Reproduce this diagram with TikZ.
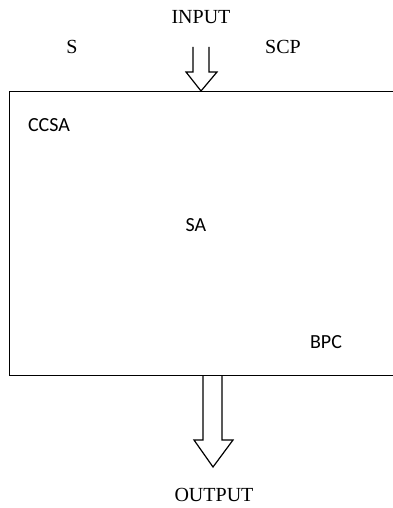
\documentclass[tikz,border=0pt]{standalone}
\usepackage{fontspec}
\setmainfont{Liberation Serif}
\newfontfamily\calib{Carlito}
\usetikzlibrary{calc}
\tikzset{
  serifl/.style={font=\fontsize{20}{24}\selectfont, inner sep=0pt},
  sansl/.style={font=\calib\fontsize{20}{24}\selectfont, inner sep=0pt},
  blockbox/.style={draw=black, line width=1.4pt, inner sep=0pt},
  hollow/.style={draw=black, line width=1.2pt, line join=miter}
}
\begin{document}
\begin{tikzpicture}[x=1pt,y=-1pt]
\useasboundingbox (0,0) rectangle (393,508);
\clip (0,0) rectangle (393,508);
\fill[white] (0,0) rectangle (393,508);
% labels above
\node[serifl] (input) at (201,17) {INPUT};
\node[serifl] (s) at (72,47) {S};
\node[serifl] (scp) at (283,47) {SCP};
% main box (right edge off canvas)
\node[blockbox, anchor=north west, minimum width=420pt, minimum height=284pt] (box) at (9,91) {};
\node[sansl] (ccsa) at (49,125) {CCSA};
\node[sansl] (sa) at (196,225) {SA};
\node[sansl] (bpc) at (326,342) {BPC};
% input arrow
\coordinate (intip) at (201,91);
\draw[hollow] ($(intip)+(-8,-44)$) -- ($(intip)+(-8,-19)$) -- ($(intip)+(-15,-19)$) -- (intip)
  -- ($(intip)+(16,-19)$) -- ($(intip)+(8,-19)$) -- ($(intip)+(8,-44)$);
% output arrow
\coordinate (outtip) at (213,467);
\draw[hollow] ($(outtip)+(-10,-92)$) -- ($(outtip)+(-10,-27)$) -- ($(outtip)+(-19,-27)$) -- (outtip)
  -- ($(outtip)+(20,-27)$) -- ($(outtip)+(9,-27)$) -- ($(outtip)+(9,-92)$);
\node[serifl] (output) at (214,495) {OUTPUT};
\end{tikzpicture}
\end{document}
